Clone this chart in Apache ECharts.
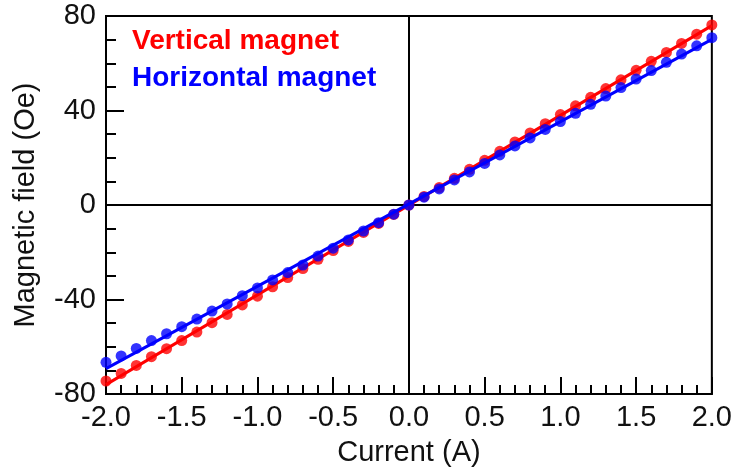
<!DOCTYPE html>
<html>
<head>
<meta charset="utf-8">
<script src="https://cdn.jsdelivr.net/npm/echarts@6/dist/echarts.min.js"></script>
<style>
  html, body { margin: 0; padding: 0; background: #fff; }
  #chart { width: 735px; height: 476px; }
</style>
</head>
<body>
<div id="chart"></div>
<script>
// Coil current (A)
const current = [
  -2.0, -1.9, -1.8, -1.7, -1.6, -1.5, -1.4, -1.3, -1.2, -1.1,
  -1.0, -0.9, -0.8, -0.7, -0.6, -0.5, -0.4, -0.3, -0.2, -0.1,
   0.0,  0.1,  0.2,  0.3,  0.4,  0.5,  0.6,  0.7,  0.8,  0.9,
   1.0,  1.1,  1.2,  1.3,  1.4,  1.5,  1.6,  1.7,  1.8,  1.9, 2.0
];
// Measured field, vertical magnet (Oe)
const verticalField = [
  -74.5, -71.3, -67.9, -64.2, -60.8, -57.4, -53.8, -49.8, -46.3, -42.3,
  -38.6, -34.6, -30.7, -26.9, -23.0, -19.3, -15.4, -11.6,  -7.8,  -4.0,
    0.0,   3.6,   7.4,  11.3,  15.1,  18.9,  22.7,  26.7,  30.5,  34.4,
   38.3,  42.0,  45.6,  49.3,  53.0,  57.0,  60.8,  64.6,  68.4,  72.3, 76.2
];
// Measured field, horizontal magnet (Oe)
const horizontalField = [
  -66.6, -63.9, -60.7, -57.4, -54.5, -51.5, -48.3, -44.9, -41.9, -38.4,
  -35.1, -31.7, -28.6, -25.4, -21.6, -18.3, -14.8, -11.0,  -7.5,  -3.9,
    0.0,   3.3,   6.8,  10.6,  14.0,  17.6,  21.2,  25.0,  28.4,  32.0,
   35.3,  38.8,  42.6,  46.1,  49.7,  53.3,  56.9,  60.4,  63.9,  67.4, 70.8
];
const seriesNames = ['Vertical magnet', 'Horizontal magnet'];
const seriesColors = ['#ff0000', '#0000ff'];
const xTicks = [-2.0, -1.5, -1.0, -0.5, 0.0, 0.5, 1.0, 1.5, 2.0];
const yTicks = [-80, -40, 0, 40, 80];

// Least-squares straight line through the measured points
function linearFit(xs, ys) {
  const n = xs.length;
  let sx = 0, sy = 0, sxx = 0, sxy = 0;
  for (let i = 0; i < n; i++) {
    sx += xs[i]; sy += ys[i]; sxx += xs[i] * xs[i]; sxy += xs[i] * ys[i];
  }
  const slope = (n * sxy - sx * sy) / (n * sxx - sx * sx);
  const icpt = (sy - slope * sx) / n;
  const x0 = xs[0], x1 = xs[n - 1];
  return [[x0, slope * x0 + icpt], [x1, slope * x1 + icpt]];
}

const pairs = ys => current.map((x, i) => [x, ys[i]]);
const fieldSets = [verticalField, horizontalField];

const font = 'Liberation Sans, Arial, sans-serif';
const ink = '#111';

const series = [];
fieldSets.forEach((ys, k) => {
  series.push({
    name: seriesNames[k] + ' fit',
    type: 'line',
    data: linearFit(current, ys),
    symbol: 'none',
    lineStyle: { color: seriesColors[k], width: 3 },
    silent: true,
    z: 2 + k * 2
  });
  series.push({
    name: seriesNames[k],
    type: 'scatter',
    data: pairs(ys),
    symbol: 'circle',
    symbolSize: 11,
    itemStyle: { color: seriesColors[k] },
    z: 3 + k * 2
  });
});
// zero reference lines
series[0].markLine = {
  silent: true,
  symbol: 'none',
  label: { show: false },
  lineStyle: { color: '#000', width: 2, type: 'solid' },
  data: [{ xAxis: 0 }, { yAxis: 0 }],
  z: 1
};

const chart = echarts.init(document.getElementById('chart'), null, { renderer: 'canvas' });
chart.setOption({
  animation: false,
  backgroundColor: '#fff',
  grid: {
    left: 106, right: 23, top: 16, bottom: 82,
    show: true, borderColor: '#000', borderWidth: 2, backgroundColor: 'transparent'
  },
  legend: {
    data: seriesNames.map((n, k) => ({
      name: n,
      textStyle: { color: seriesColors[k] }
    })),
    orient: 'vertical',
    left: 122, top: 22,
    itemWidth: 0, itemHeight: 0, itemGap: 9,
    icon: 'circle',
    selectedMode: false,
    textStyle: { fontFamily: font, fontSize: 28, fontWeight: 'bold' }
  },
  xAxis: {
    type: 'value',
    min: xTicks[0], max: xTicks[xTicks.length - 1], interval: 0.5,
    name: 'Current (A)', nameLocation: 'middle', nameGap: 44,
    nameTextStyle: { fontFamily: font, fontSize: 29, color: ink },
    axisLine: { onZero: false, lineStyle: { color: '#000', width: 2 } },
    axisTick: { inside: true, length: 17, lineStyle: { color: '#000', width: 2 } },
    minorTick: { show: true, splitNumber: 5, length: 9, lineStyle: { color: '#000', width: 2 } },
    splitLine: { show: false },
    axisLabel: {
      margin: 9, fontFamily: font, fontSize: 29, color: ink,
      formatter: v => v.toFixed(1)
    }
  },
  yAxis: {
    type: 'value',
    min: yTicks[0], max: yTicks[yTicks.length - 1], interval: 40,
    name: 'Magnetic field (Oe)', nameLocation: 'middle', nameGap: 66,
    nameTextStyle: { fontFamily: font, fontSize: 29, color: ink },
    axisLine: { onZero: false, lineStyle: { color: '#000', width: 2 } },
    axisTick: { inside: true, length: 18, lineStyle: { color: '#000', width: 2 } },
    minorTick: { show: true, splitNumber: 4, length: 10, lineStyle: { color: '#000', width: 2 } },
    splitLine: { show: false },
    axisLabel: { margin: 10, fontFamily: font, fontSize: 29, color: ink }
  },
  series: series
});
</script>
</body>
</html>
